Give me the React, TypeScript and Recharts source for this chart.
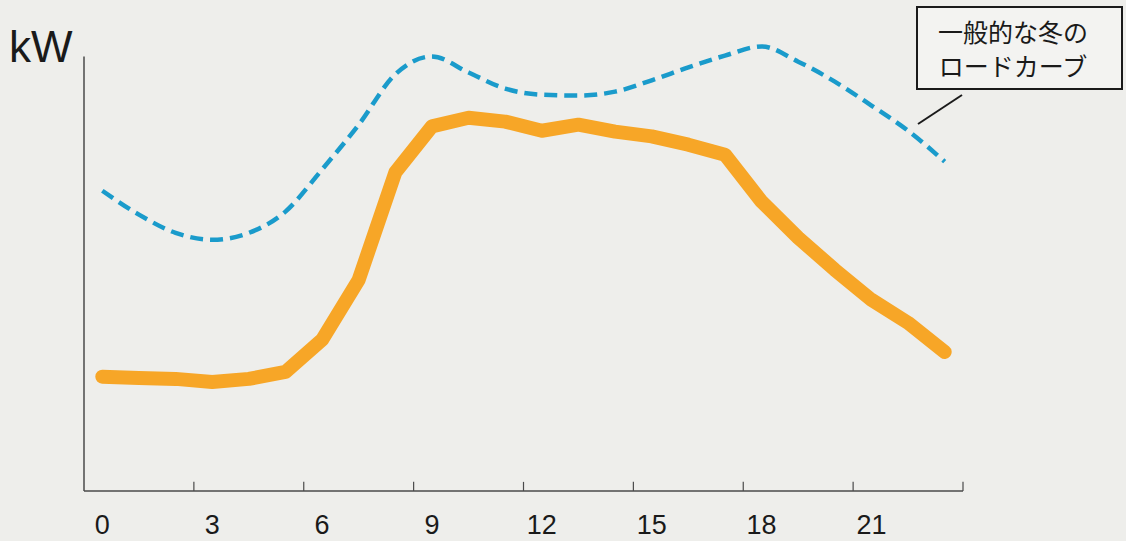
import { LineChart, Line, XAxis, YAxis, ReferenceLine } from "recharts";

// hourly load (kW, arbitrary scale)
const HOURS = [0, 1, 2, 3, 4, 5, 6, 7, 8, 9, 10, 11, 12, 13, 14, 15, 16, 17, 18, 19, 20, 21, 22, 23];
const THIS_HOUSE = [26.3, 26.0, 25.8, 25.1, 25.8, 27.4, 34.8, 48.6, 73.3, 83.9, 85.9, 85.0, 82.9, 84.3, 82.7, 81.6, 79.7, 77.4, 66.6, 58.3, 50.9, 44.0, 38.7, 32.0];
const WINTER_TYPICAL = [69.1, 63.6, 59.4, 57.8, 59.4, 64.3, 74.0, 84.3, 95.9, 100.0, 96.3, 92.6, 91.2, 91.0, 91.9, 94.5, 97.5, 100.2, 102.3, 98.8, 94.2, 88.7, 82.9, 75.8];
const TICK_LABELS = [0, 3, 6, 9, 12, 15, 18, 21];
const TICK_MARKS = [3, 6, 9, 12, 15, 18, 21, 24];
const CALLOUT = ["一般的な冬の", "ロードカーブ"];

// each hour sits in the middle of its one-hour slot
const data = HOURS.map((h, i) => ({ x: h + 0.5, house: THIS_HOUSE[i], winter: WINTER_TYPICAL[i] }));

const AXIS = "#4a4a4a";

export default function App() {
  return (
    <div style={{ position: "fixed", left: 0, top: 0, width: 1126, height: 541, background: "#eeeeeb" }}>
      <LineChart width={1126} height={541} data={data} margin={{ top: 13, right: 163, bottom: 10, left: 84 }}>
        <XAxis
          type="number"
          dataKey="x"
          domain={[0, 24]}
          ticks={TICK_LABELS.map((t) => t + 0.5)}
          tickFormatter={(v: number) => String(v - 0.5)}
          tickLine={false}
          tickMargin={18}
          height={40}
          axisLine={{ stroke: AXIS, strokeWidth: 1.5 }}
          tick={{ fill: "#1a1a1a", fontSize: 27, fontFamily: "Liberation Sans, Arial, sans-serif" }}
        />
        <YAxis hide domain={[0, 110]} />
        <ReferenceLine segment={[{ x: 0, y: 0 }, { x: 0, y: 100 }]} stroke={AXIS} strokeWidth={1.5} ifOverflow="visible" />
        {TICK_MARKS.map((t) => (
          <ReferenceLine key={t} segment={[{ x: t, y: 0 }, { x: t, y: 2.1 }]} stroke={AXIS} strokeWidth={1.2} ifOverflow="visible" />
        ))}
        <Line
          type="monotone"
          dataKey="winter"
          stroke="#1a9bcb"
          strokeWidth={4.5}
          strokeDasharray="13 7"
          dot={false}
          isAnimationActive={false}
        />
        <Line
          type="linear"
          dataKey="house"
          stroke="#f7a627"
          strokeWidth={14}
          strokeLinejoin="round"
          strokeLinecap="round"
          dot={false}
          isAnimationActive={false}
        />
      </LineChart>
      <svg width={1126} height={541} style={{ position: "absolute", left: 0, top: 0, pointerEvents: "none" }}>
        <text x={9} y={62} fontSize={44} fill="#1a1a1a" fontFamily="Liberation Sans, Arial, sans-serif">
          kW
        </text>
        <rect x={917} y={7} width={205} height={82} fill="#f3f3f1" stroke="#1a1a1a" strokeWidth={2} />
        {CALLOUT.map((s, i) => (
          <text
            key={i}
            x={1013}
            y={42 + i * 34}
            fontSize={25}
            textAnchor="middle"
            fill="#1a1a1a"
            fontFamily="Noto Sans CJK JP, sans-serif"
          >
            {s}
          </text>
        ))}
        <line x1={962} y1={95} x2={918} y2={124} stroke="#1a1a1a" strokeWidth={2} />
      </svg>
    </div>
  );
}
